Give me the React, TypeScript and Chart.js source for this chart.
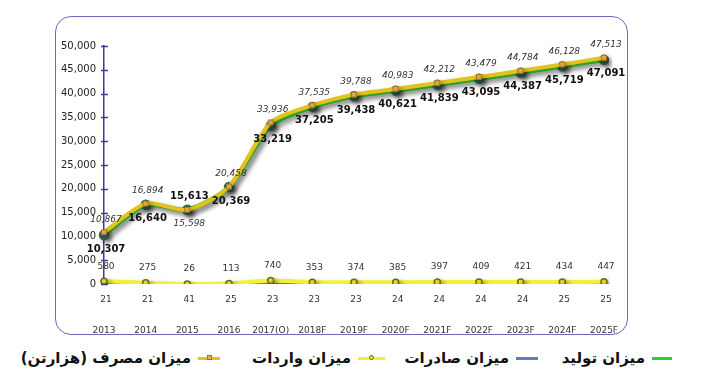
import React, { useEffect, useRef } from "react";
import { Chart, registerables } from "chart.js";

Chart.register(...registerables);

const categories = ["2013", "2014", "2015", "2016", "2017(O)", "2018F", "2019F", "2020F", "2021F", "2022F", "2023F", "2024F", "2025F"];
const production = [10307, 16640, 15613, 20369, 33219, 37205, 39438, 40621, 41839, 43095, 44387, 45719, 47091];
const consumption = [10867, 16894, 15598, 20458, 33936, 37535, 39788, 40983, 42212, 43479, 44784, 46128, 47513];
const imports = [580, 275, 26, 113, 740, 353, 374, 385, 397, 409, 421, 434, 447];
const exportsData = [21, 21, 41, 25, 23, 23, 23, 24, 24, 24, 24, 25, 25];
const yMin = 0;
const yMax = 50000;
const yStep = 5000;

const legendItems = [
  { label: "میزان تولید", color: "#33cc33", marker: "none" },
  { label: "میزان صادرات", color: "#5b7fc4", marker: "none" },
  { label: "میزان واردات", color: "#f2f233", marker: "circle" },
  { label: "میزان مصرف (هزارتن)", color: "#e3c21c", marker: "square" },
];
// legend layout: right edge of each swatch and swatch width (pixels)
const legendRight = [30, 164, 317, 482];
const legendSwatchW = [20, 22, 27, 22];

const AXIS_COLOR = "#3c3c9c";
const fmt = (v: number) => v.toLocaleString("en-US");

const shadowPlugin = {
  id: "shadow",
  beforeDatasetDraw(chart: any) {
    const ctx = chart.ctx;
    ctx.save();
    ctx.shadowColor = "rgba(0,0,0,0.38)";
    ctx.shadowBlur = 5;
    ctx.shadowOffsetX = 3;
    ctx.shadowOffsetY = 3;
  },
  afterDatasetDraw(chart: any) {
    chart.ctx.restore();
  },
};

const yTickMarks = {
  id: "yTickMarks",
  afterDraw(chart: any) {
    const y = chart.scales.y;
    const ctx = chart.ctx;
    const x = chart.chartArea.left;
    ctx.save();
    ctx.strokeStyle = AXIS_COLOR;
    ctx.lineWidth = 1.5;
    y.ticks.forEach((t: any) => {
      const py = Math.round(y.getPixelForValue(t.value)) + 0.5;
      ctx.beginPath();
      ctx.moveTo(x - 3, py);
      ctx.lineTo(x + 4, py);
      ctx.stroke();
    });
    ctx.restore();
  },
};

const dataLabels = {
  id: "dataLabels",
  afterDatasetsDraw(chart: any) {
    const ctx = chart.ctx;
    ctx.save();
    ctx.textAlign = "center";
    ctx.textBaseline = "middle";
    chart.data.datasets.forEach((ds: any, di: number) => {
      const meta = chart.getDatasetMeta(di);
      const kind = ds.labelKind;
      meta.data.forEach((pt: any, i: number) => {
        const v = ds.data[i];
        let dy = 0;
        if (kind === "production" || kind === "consumption") {
          const other = kind === "production" ? consumption[i] : production[i];
          dy = v >= other ? -13 : 14;
        } else if (kind === "imports") {
          dy = -15;
        } else {
          dy = 16;
        }
        if (kind === "production") {
          ctx.font = "bold 10px 'DejaVu Sans'";
          ctx.fillStyle = "#111";
        } else if (kind === "consumption") {
          ctx.font = "italic 9px 'DejaVu Sans'";
          ctx.fillStyle = "#333";
        } else {
          ctx.font = "9px 'DejaVu Sans'";
          ctx.fillStyle = "#333";
        }
        ctx.fillText(fmt(v), pt.x + 2, pt.y + dy);
      });
    });
    ctx.restore();
  },
};

export default function App() {
  const ref = useRef<HTMLCanvasElement | null>(null);
  useEffect(() => {
    if (!ref.current) return;
    const chart = new Chart(ref.current, {
      type: "line",
      data: {
        labels: categories,
        datasets: [
          {
            label: "میزان مصرف (هزارتن)",
            labelKind: "consumption",
            data: consumption,
            borderColor: "#e3c21c",
            borderWidth: 4,
            pointStyle: "rect",
            pointRadius: 3.5,
            pointBackgroundColor: "#e2b15a",
            pointBorderColor: "#a8731e",
            pointBorderWidth: 1,
            tension: 0.25,
          } as any,
          {
            label: "میزان تولید",
            labelKind: "production",
            data: production,
            borderColor: "#33cc33",
            borderWidth: 4.5,
            pointRadius: 3,
            pointBackgroundColor: "#3a7a5a",
            pointBorderColor: "#2f6a4a",
            tension: 0.25,
          } as any,
          {
            label: "میزان واردات",
            labelKind: "imports",
            data: imports,
            borderColor: "#f2f233",
            borderWidth: 4,
            pointStyle: "circle",
            pointRadius: 3,
            pointBackgroundColor: "#e8e830",
            pointBorderColor: "#6b6b10",
            pointBorderWidth: 1.5,
            tension: 0.25,
          } as any,
          {
            label: "میزان صادرات",
            labelKind: "exports",
            data: exportsData,
            borderColor: "#5b7fc4",
            borderWidth: 1.5,
            pointRadius: 0,
            tension: 0.25,
          } as any,
        ],
      },
      options: {
        animation: false,
        responsive: false,
        maintainAspectRatio: false,
        layout: { padding: { left: 0, right: 98, top: 46, bottom: 0 } },
        plugins: { legend: { display: false }, tooltip: { enabled: false } },
        scales: {
          x: {
            offset: false,
            grid: { display: false, drawTicks: false },
            border: { display: false },
            ticks: {
              padding: 41,
              color: "#333",
              font: { family: "'DejaVu Sans'", size: 9 },
              maxRotation: 0,
              autoSkip: false,
            },
            afterFit(scale: any) {
              scale.height = 56;
            },
          },
          y: {
            min: yMin,
            max: yMax,
            grid: { display: false, drawTicks: false },
            border: { display: true, color: AXIS_COLOR, width: 1.5 },
            ticks: {
              stepSize: yStep,
              padding: 8,
              color: "#222",
              font: { family: "'DejaVu Sans'", size: 10 },
              callback: (v: any) => fmt(Number(v)),
            },
            afterFit(scale: any) {
              scale.width = 104;
            },
          },
        },
      },
      plugins: [shadowPlugin, yTickMarks, dataLabels],
    } as any);
    return () => chart.destroy();
  }, []);

  return (
    <div style={{ position: "fixed", left: 0, top: 0, width: 702, height: 378, background: "#fff", overflow: "hidden" }}>
      <div
        style={{
          position: "absolute",
          left: 55,
          top: 16,
          width: 573,
          height: 319,
          border: "1.5px solid #6b6bb8",
          borderRadius: 16,
          boxSizing: "border-box",
        }}
      />
      <canvas ref={ref} width={702} height={340} style={{ position: "absolute", left: 0, top: 0, width: 702, height: 340 }} />
      {legendItems.map((it, i) => (
        <div
          key={it.label}
          dir="rtl"
          style={{
            position: "absolute",
            right: legendRight[i],
            top: 345,
            height: 26,
            display: "flex",
            alignItems: "center",
            fontFamily: "'DejaVu Sans', sans-serif",
            fontWeight: "bold",
            fontSize: 15,
            color: "#111",
            whiteSpace: "nowrap",
          }}
        >
          <span style={{ position: "relative", display: "inline-block", width: legendSwatchW[i], height: 3, background: it.color, marginLeft: 7 }}>
            {it.marker !== "none" && (
              <span
                style={{
                  position: "absolute",
                  left: legendSwatchW[i] / 2 - 2.5,
                  top: -1.5,
                  width: 5,
                  height: 5,
                  boxSizing: "border-box",
                  borderRadius: it.marker === "circle" ? "50%" : 0,
                  background: it.marker === "circle" ? "#e8e830" : "#e2b15a",
                  border: it.marker === "circle" ? "1px solid #6b6b10" : "1px solid #a8731e",
                }}
              />
            )}
          </span>
          <span>{it.label}</span>
        </div>
      ))}
    </div>
  );
}
